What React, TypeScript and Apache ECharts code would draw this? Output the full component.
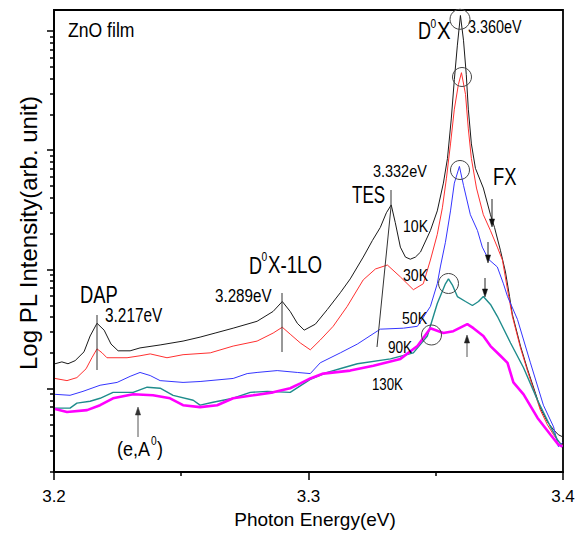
import React, { useEffect, useRef } from 'react';
import * as echarts from 'echarts';

// ---- data: [photon energy (eV), PL intensity (arb. unit)] ----
const k10: number[][] = [
  [3.2004, 16.2], [3.2031, 16.8], [3.2055, 16.2], [3.2083, 17.2], [3.2118, 20.4], [3.2142, 27.7],
  [3.2169, 35.4], [3.2197, 31.0], [3.2224, 23.7], [3.2252, 20.8], [3.2299, 20.8], [3.2338, 22.0],
  [3.2417, 23.3], [3.2507, 25.1], [3.2574, 27.1], [3.2633, 29.3], [3.2704, 32.2], [3.2798, 36.8],
  [3.2861, 44.5], [3.2897, 53.9], [3.2928, 44.5], [3.2956, 35.4], [3.2983, 31.0], [3.3027, 34.8],
  [3.3074, 46.2], [3.3125, 63.9], [3.3164, 83.4], [3.3215, 127], [3.3251, 175], [3.3282, 225],
  [3.3306, 299], [3.3325, 348], [3.3341, 247], [3.3361, 154], [3.3381, 127], [3.34, 122],
  [3.342, 127], [3.344, 140], [3.3479, 212], [3.3506, 310], [3.353, 530], [3.3546, 853],
  [3.3561, 1830], [3.3573, 3910], [3.3585, 7610], [3.3597, 13490], [3.3609, 8370], [3.362, 4300],
  [3.3628, 2210], [3.364, 1130], [3.3656, 705], [3.3687, 482], [3.3715, 288], [3.3731, 225],
  [3.3754, 145], [3.3774, 95.3], [3.379, 59.3], [3.3801, 42.1], [3.3833, 22.8], [3.386, 14.7],
  [3.3892, 9.16], [3.3911, 6.88], [3.3939, 5.27], [3.3963, 4.53], [3.3982, 4.11], [3.3998, 3.96],
];
const k30: number[][] = [
  [3.2004, 12.2], [3.2051, 11.7], [3.209, 12.4], [3.2126, 14.7], [3.2149, 18.2], [3.2169, 21.6],
  [3.2189, 20.0], [3.2208, 18.2], [3.2287, 18.2], [3.2338, 18.9], [3.2378, 19.6], [3.2444, 18.2],
  [3.2507, 19.3], [3.2614, 20.0], [3.2704, 22.8], [3.2798, 25.1], [3.2861, 29.3], [3.2897, 32.8],
  [3.2928, 28.7], [3.2968, 24.2], [3.3007, 21.2], [3.3046, 25.6], [3.3097, 33.4], [3.3152, 49.0],
  [3.3215, 81.8], [3.3263, 101], [3.331, 109], [3.3361, 86.7], [3.3412, 67.7], [3.3451, 75.9],
  [3.3479, 120], [3.3506, 197], [3.3526, 329], [3.3542, 583], [3.3558, 1130], [3.3573, 2210],
  [3.3589, 3560], [3.3601, 4470], [3.3617, 2940], [3.3628, 1510], [3.364, 853], [3.366, 482],
  [3.3687, 288], [3.3715, 212], [3.3742, 154], [3.3762, 120], [3.3782, 67.7], [3.3801, 40.5],
  [3.3833, 22.0], [3.386, 14.2], [3.3892, 8.81], [3.3911, 6.62], [3.3939, 4.98], [3.3963, 4.11],
  [3.3982, 3.6], [3.3998, 3.4],
];
const k50: number[][] = [
  [3.2004, 8.98], [3.2063, 8.81], [3.2114, 9.51], [3.2181, 10.7], [3.2248, 11.3], [3.2299, 12.7],
  [3.2338, 13.7], [3.2378, 12.9], [3.2417, 11.7], [3.2507, 11.3], [3.2574, 11.5], [3.2704, 12.2],
  [3.2759, 13.4], [3.2798, 13.7], [3.2877, 14.2], [3.2956, 13.7], [3.3007, 13.4], [3.3046, 16.5],
  [3.3125, 20.0], [3.3192, 23.7], [3.3282, 31.6], [3.3373, 32.2], [3.3428, 33.4], [3.3479, 49.0],
  [3.3506, 75.9], [3.3518, 105], [3.3538, 169], [3.3558, 310], [3.3573, 530], [3.3593, 732],
  [3.3609, 508], [3.3636, 288], [3.3664, 212], [3.3683, 154], [3.3707, 122], [3.3742, 105],
  [3.3766, 75.9], [3.3782, 59.3], [3.3821, 38.2], [3.3872, 16.5], [3.3923, 7.28], [3.3963, 4.79],
  [3.3982, 3.27], [3.3998, 3.53],
];
const k90: number[][] = [
  [3.2004, 6.88], [3.2031, 6.88], [3.2063, 6.88], [3.209, 7.57], [3.2142, 7.86], [3.2181, 8.32],
  [3.2232, 9.33], [3.2311, 9.33], [3.2366, 10.3], [3.2417, 10.1], [3.2468, 8.81], [3.2547, 8.01],
  [3.2574, 7.28], [3.2625, 7.71], [3.2704, 8.32], [3.2771, 9.33], [3.2838, 9.51], [3.2928, 9.33],
  [3.3007, 12.0], [3.3074, 13.7], [3.3137, 15.0], [3.3192, 16.2], [3.3322, 17.8], [3.3412, 20.0],
  [3.3467, 27.7], [3.3506, 51.8], [3.3538, 75.9], [3.355, 83.4], [3.3565, 74.4], [3.3585, 59.3],
  [3.3617, 53.9], [3.3644, 49.9], [3.3668, 53.9], [3.3687, 59.3], [3.3715, 50.9], [3.3742, 40.5],
  [3.3794, 24.2], [3.3845, 15.0], [3.39, 8.01], [3.3951, 4.79], [3.3978, 3.74], [3.3998, 3.27],
];
const k130: number[][] = [
  [3.2004, 6.75], [3.2051, 6.38], [3.213, 6.62], [3.2181, 7.28], [3.2232, 8.32], [3.2311, 8.98],
  [3.2389, 8.81], [3.2456, 8.32], [3.2507, 7.28], [3.2574, 7.01], [3.2641, 7.28], [3.2704, 8.32],
  [3.2783, 8.81], [3.2861, 9.33], [3.2928, 10.1], [3.2968, 11.1], [3.3007, 12.2], [3.3058, 13.4],
  [3.3164, 14.2], [3.3255, 15.6], [3.3361, 17.8], [3.3428, 22.8], [3.3479, 32.2], [3.353, 29.3],
  [3.3569, 30.4], [3.3624, 34.8], [3.3648, 32.2], [3.3687, 27.7], [3.3715, 22.8], [3.3754, 18.9],
  [3.3782, 16.5], [3.3805, 11.3], [3.3845, 8.98], [3.39, 5.69], [3.3951, 4.11], [3.3982, 3.4],
  [3.3998, 3.27],
];

const seriesNames = ['10K', '30K', '50K', '90K', '130K'];
const xTickLabels = ['3.2', '3.3', '3.4'];
const yMajorTicks = [10, 100, 1000, 10000];
const yMinorTicks = [2, 3, 4, 5, 6, 7, 8, 9, 20, 30, 40, 50, 60, 70, 80, 90,
  200, 300, 400, 500, 600, 700, 800, 900, 2000, 3000, 4000, 5000, 6000, 7000, 8000, 9000];

const Y_MIN = 2;
const Y_MAX = 15000;
const FONT = '"Liberation Sans", Arial, Helvetica, sans-serif';

function txt(text: string, x: number, y: number, size: number, sx: number, fill = '#000') {
  return {
    type: 'text', x, y, scaleX: sx, scaleY: 1, silent: true, z: 100,
    style: {
      text, fontSize: size, fontFamily: FONT, fill,
      align: 'left', verticalAlign: 'middle', textAlign: 'left', textVerticalAlign: 'middle',
    },
  };
}
function ln(x1: number, y1: number, x2: number, y2: number, stroke = '#222', w = 1) {
  return { type: 'line', silent: true, z: 100, shape: { x1, y1, x2, y2 }, style: { stroke, lineWidth: w } };
}
function head(x: number, tip: number, dir: number, fill = '#111') {
  // dir = 1 points down, -1 points up
  const base = tip - dir * 8;
  return {
    type: 'polygon', silent: true, z: 100,
    shape: { points: [[x - 2.6, base], [x + 2.6, base], [x, tip]] },
    style: { fill, stroke: fill, lineWidth: 0.5 },
  };
}
function circ(cx: number, cy: number, r: number) {
  return { type: 'circle', silent: true, z: 100, shape: { cx, cy, r }, style: { stroke: '#444', fill: 'none', lineWidth: 1 } };
}

export default function App() {
  const ref = useRef<HTMLDivElement>(null);
  useEffect(() => {
    const chart = echarts.init(ref.current!, null, { renderer: 'svg' });
    const tickLine = { color: '#000', width: 1.5 };
    const logMin = Math.log10(Y_MIN);
    const logMax = Math.log10(Y_MAX);
    const colors = ['#1a1a1a', '#ff3030', '#3535ff', '#1f8c8c', '#ff00ff'];
    const widths = [1, 1, 1, 1.4, 2.6];
    const datasets = [k10, k30, k50, k90, k130];

    const graphic: any[] = [
      txt('ZnO film', 68, 30.5, 20, 0.88),
      txt('D', 418, 31, 24, 0.75), txt('0', 430.5, 24, 12, 0.85), txt('X', 437, 31, 24, 0.85),
      txt('3.360eV', 468, 26.5, 18, 0.8),
      txt('3.332eV', 373, 171, 17, 0.85),
      txt('TES', 352, 195, 23, 0.74),
      txt('FX', 493, 176.5, 23, 0.8),
      txt('10K', 403, 226.5, 17, 0.83),
      txt('30K', 403, 275, 17, 0.83),
      txt('50K', 402, 318.5, 17, 0.83),
      txt('90K', 388, 346.5, 17, 0.8),
      txt('130K', 372, 383.5, 17, 0.78),
      txt('DAP', 80, 295, 23, 0.8),
      txt('3.217eV', 105, 315.5, 20, 0.77),
      txt('D', 249, 265.5, 24, 0.75), txt('0', 261.5, 257, 12, 0.85), txt('X-1LO', 268, 265.5, 24, 0.78),
      txt('3.289eV', 215, 295, 19, 0.8),
      txt('(e,A', 117, 449, 20, 0.9), txt('0', 151, 441, 12, 0.85), txt(')', 157, 449, 20, 0.9),
      ln(97, 315, 97, 370, '#333'),
      ln(282, 293, 282, 352, '#333'),
      { type: 'polyline', silent: true, z: 100, shape: { points: [[391, 190], [391, 207], [377, 347]] }, style: { stroke: '#333', fill: 'none', lineWidth: 1 } },
      ln(492, 199, 492, 220), head(492, 227, 1),
      ln(488, 242, 488, 256), head(488, 263, 1),
      ln(485, 278, 485, 290), head(485, 297, 1),
      ln(467, 357, 467, 342, '#555'), head(467, 335, -1, '#222'),
      ln(138, 437, 138, 414, '#555'), head(138, 407, -1, '#333'),
      circ(460, 19.3, 10), circ(462, 77, 9.5), circ(460, 170, 9.5), circ(448.5, 283.5, 10), circ(431.5, 335, 10),
    ];

    chart.setOption({
      animation: false,
      backgroundColor: '#fff',
      grid: { left: 54, right: 17, top: 10, bottom: 56, show: true, borderColor: '#000', borderWidth: 1.8, containLabel: false },
      xAxis: {
        type: 'value', min: 3.2, max: 3.4, interval: 0.1, position: 'bottom',
        axisLine: { show: true, onZero: false, lineStyle: { color: '#000', width: 1.8 } },
        axisTick: { show: true, length: 8, lineStyle: tickLine },
        minorTick: { show: true, splitNumber: 2, length: 4, lineStyle: tickLine },
        axisLabel: {
          fontSize: 17, color: '#000', fontFamily: FONT, margin: 16,
          formatter: (v: number) => xTickLabels[Math.round((v - 3.2) / 0.1)] ?? '',
        },
        splitLine: { show: false },
        name: 'Photon Energy(eV)', nameLocation: 'middle', nameGap: 33,
        nameTextStyle: { fontSize: 19, color: '#000', fontFamily: FONT, padding: [0, 0, 0, 13] },
      },
      yAxis: [
        {
          type: 'log', logBase: 10, min: Y_MIN, max: Y_MAX, position: 'left',
          axisLine: { show: true, onZero: false, lineStyle: { color: '#000', width: 1.8 } },
          axisTick: { show: false }, axisLabel: { show: false }, splitLine: { show: false },
          name: 'Log PL Intensity(arb. unit)', nameLocation: 'middle', nameGap: 14,
          nameTextStyle: { fontSize: 24, color: '#000', fontFamily: FONT, padding: [0, 0, 0, 16] },
        },
        {
          type: 'value', min: logMin, max: logMax, position: 'left', offset: 0,
          axisLine: { show: false, onZero: false },
          axisTick: { show: true, length: 7, lineStyle: tickLine, customValues: yMajorTicks.map((v) => Math.log10(v)) },
          axisLabel: { show: false }, splitLine: { show: false },
        },
        {
          type: 'value', min: logMin, max: logMax, position: 'left', offset: 0,
          axisLine: { show: false, onZero: false },
          axisTick: { show: true, length: 4, lineStyle: tickLine, customValues: yMinorTicks.map((v) => Math.log10(v)) },
          axisLabel: { show: false }, splitLine: { show: false },
        },
      ],
      series: datasets.map((d, i) => ({
        name: seriesNames[i], type: 'line', xAxisIndex: 0, yAxisIndex: 0, data: d,
        showSymbol: false, symbol: 'none', smooth: false, silent: true, z: 2 + i,
        lineStyle: { color: colors[i], width: widths[i] },
      })),
      graphic,
    });
    return () => chart.dispose();
  }, []);
  return <div ref={ref} style={{ position: 'fixed', left: 0, top: 0, width: 580, height: 534, background: '#fff' }} />;
}
